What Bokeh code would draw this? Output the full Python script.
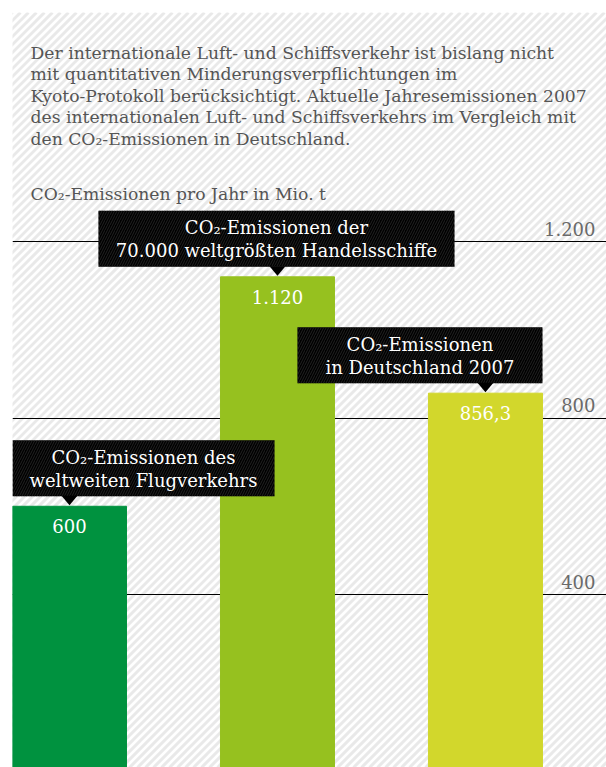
from bokeh.plotting import figure
from bokeh.models import Range1d, FixedTicker, Label, ColumnDataSource
from bokeh.core.properties import value
from bokeh.embed import file_html
from bokeh.resources import INLINE

# ---------------- data ----------------
categories = ["Flugverkehr", "Handelsschiffe", "Deutschland 2007"]
emissions = [600, 1120, 856.3]
value_labels = ["600", "1.120", "856,3"]
bar_colors = ["#00923f", "#96c11f", "#d2d72c"]
callout_line1 = ["CO₂-Emissionen des", "CO₂-Emissionen der", "CO₂-Emissionen"]
callout_line2 = ["weltweiten Flugverkehrs", "70.000 weltgrößten Handelsschiffe", "in Deutschland 2007"]
ticks = [400, 800, 1200]
tick_labels = ["400", "800", "1.200"]
intro_lines = [
    "Der internationale Luft- und Schiffsverkehr ist bislang nicht",
    "mit quantitativen Minderungsverpflichtungen im",
    "Kyoto-Protokoll berücksichtigt. Aktuelle Jahresemissionen 2007",
    "des internationalen Luft- und Schiffsverkehrs im Vergleich mit",
    "den CO₂-Emissionen in Deutschland.",
]
unit_title = "CO₂-Emissionen pro Jahr in Mio. t"

# ---------------- layout ----------------
FONT = "DejaVu Serif"
FS = "18px"
FS_INTRO = "17.2px"
W, H = 606, 767
BL, BT = 12, 12
FW, FH = W - BL, H - BT
XR = (-0.274, 2.582)
YR = (8, 1719)
PX_X = FW / (XR[1] - XR[0])
PX_Y = FH / (YR[1] - YR[0])

p = figure(width=W, height=H, output_backend="svg", toolbar_location=None,
           x_range=Range1d(*XR), y_range=Range1d(*YR),
           x_axis_location=None, y_axis_location=None,
           min_border_left=BL, min_border_top=BT, min_border_right=0, min_border_bottom=0)
p.outline_line_color = None
p.background_fill_color = "white"
p.border_fill_color = "white"

# hatched background: diagonal stripes
step = 8
cs = list(range(-FH - step, FW + step, step))
sx0 = [XR[0] + c / PX_X for c in cs]
sx1 = [XR[0] + (c + FH) / PX_X for c in cs]
p.segment(x0=sx0, y0=[YR[0]] * len(cs), x1=sx1, y1=[YR[1]] * len(cs),
          line_color="#e9e9e9", line_width=3, level="image")

# grid lines
p.xgrid.visible = False
p.ygrid.ticker = FixedTicker(ticks=ticks)
p.ygrid.grid_line_color = "black"
p.ygrid.grid_line_width = 1

idx = list(range(len(categories)))
bar_w = 114 / PX_X
src = ColumnDataSource(dict(x=idx, top=emissions, color=bar_colors, lab=value_labels))
p.vbar(x="x", top="top", bottom=YR[0], width=bar_w, color="color", source=src)

# value labels inside bars
p.text(x="x", y="top", text="lab", source=src, text_color="white",
       text_font=value(FONT), text_font_size=FS, text_align="center",
       text_baseline="middle", y_offset=20)

# tick labels on the right
tsrc = ColumnDataSource(dict(x=[XR[1]] * len(ticks), y=ticks, t=tick_labels))
p.text(x="x", y="y", text="t", source=tsrc, text_color="#6a6a6a",
       text_font=value(FONT), text_font_size=FS, text_align="right",
       text_baseline="middle", x_offset=-11, y_offset=-13)

# callouts
left_px = [-57, -179, -188]
right_px = [205, 177, 57]
gap_px, box_h_px = 10, 56
lefts = [i + l / PX_X for i, l in zip(idx, left_px)]
rights = [i + r / PX_X for i, r in zip(idx, right_px)]
bottoms = [v + gap_px / PX_Y for v in emissions]
tops = [b + box_h_px / PX_Y for b in bottoms]
p.quad(left=lefts, right=rights, bottom=bottoms, top=tops, fill_color="black",
       line_color=None, hatch_pattern="/", hatch_color="#2a2a2a", hatch_scale=5, hatch_weight=0.8)
tri_xs = [[i - 8 / PX_X, i + 8 / PX_X, i] for i in idx]
tri_ys = [[b + 0.5 / PX_Y, b + 0.5 / PX_Y, v + 1 / PX_Y] for b, v in zip(bottoms, emissions)]
p.patches(xs=tri_xs, ys=tri_ys, fill_color="black", line_color=None)
centers = [(l + r) / 2 for l, r in zip(lefts, rights)]
p.text(x=centers, y=[t - 17 / PX_Y for t in tops], text=callout_line1, text_color="white",
       text_font=value(FONT), text_font_size=FS, text_align="center", text_baseline="middle")
p.text(x=centers, y=[t - 40 / PX_Y for t in tops], text=callout_line2, text_color="white",
       text_font=value(FONT), text_font_size=FS, text_align="center", text_baseline="middle")

# intro text (screen units, y measured up from the bottom of the frame)
for k, line in enumerate(intro_lines):
    py = 52 + 21.5 * k
    p.add_layout(Label(x=18, y=H - py, x_units="screen", y_units="screen", text=line,
                       text_font=FONT, text_font_size=FS_INTRO, text_color="#555555",
                       text_baseline="alphabetic"))
p.add_layout(Label(x=18, y=H - 193, x_units="screen", y_units="screen", text=unit_title,
                   text_font=FONT, text_font_size=FS_INTRO, text_color="#555555",
                   text_baseline="alphabetic"))

open("out.html", "w").write(file_html(p, INLINE))
